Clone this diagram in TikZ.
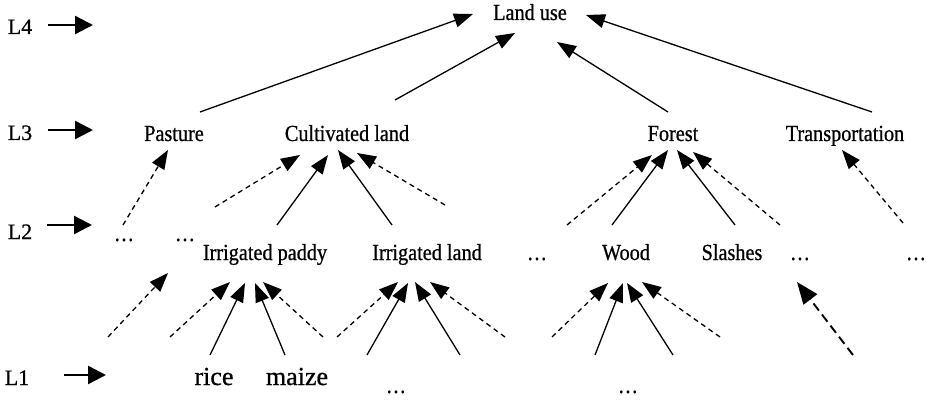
\documentclass[tikz,border=0pt]{standalone}
\usepackage{fontspec}
\setmainfont{Liberation Serif}
\newfontfamily\labelfont{Liberation Serif}[FakeBold=0.8]
\usetikzlibrary{arrows.meta}
\newcommand\narrowtext[1]{\scalebox{0.88}[1]{#1}}
\tikzset{
  term/.style={anchor=base, inner sep=0pt, font=\labelfont\fontsize{23}{26}\selectfont},
  leaf/.style={anchor=base, inner sep=0pt, font=\labelfont\fontsize{26}{28}\selectfont},
  level/.style={anchor=base, inner sep=0pt, font=\labelfont\fontsize{22}{24}\selectfont},
  levelarrow/.style={line width=2.4pt, -{Triangle[length=18pt,width=18pt]}},
  link/.style={line width=1.3pt, -{Triangle[length=19pt,width=14pt]}},
  dlink/.style={link, dash pattern=on 5pt off 4pt},
  wlink/.style={line width=1.9pt, dash pattern=on 9pt off 5pt, -{Triangle[length=22pt,width=17pt]}}
}
\begin{document}
\begin{tikzpicture}[x=1pt,y=-1pt]
\useasboundingbox (0,0) rectangle (927,401);

% level markers
\node[level] (l4) at (20,34) {L4};
\node[level] (l3) at (20,140) {L3};
\node[level] (l2) at (20,239) {L2};
\node[level] (l1) at (17,385) {L1};
\coordinate (l4a) at (48,25);  \coordinate (l4b) at (93,25);
\coordinate (l3a) at (48,130); \coordinate (l3b) at (93,130);
\coordinate (l2a) at (47,225); \coordinate (l2b) at (92,225);
\coordinate (l1a) at (64,375); \coordinate (l1b) at (106,375);
\draw[levelarrow] (l4a) -- (l4b);
\draw[levelarrow] (l3a) -- (l3b);
\draw[levelarrow] (l2a) -- (l2b);
\draw[levelarrow] (l1a) -- (l1b);

% L4
\node[term] (use) at (530,20) {\narrowtext{Land use}};

% L3
\node[term] (past)   at (174,141) {\narrowtext{Pasture}};
\node[term] (cult)   at (347,141) {\narrowtext{Cultivated land}};
\node[term] (forest) at (673,141) {\narrowtext{Forest}};
\node[term] (trans)  at (845,141) {\narrowtext{Transportation}};

% L2
\node[term] (d1)    at (124,241) {\narrowtext{…}};
\node[term] (d2)    at (185,241) {\narrowtext{…}};
\node[term] (ipad)  at (265,260) {\narrowtext{Irrigated paddy}};
\node[term] (iland) at (427,260) {\narrowtext{Irrigated land}};
\node[term] (d3)    at (537,260) {\narrowtext{…}};
\node[term] (wood)  at (626,260) {\narrowtext{Wood}};
\node[term] (slash) at (732,260) {\narrowtext{Slashes}};
\node[term] (d4)    at (800,260) {\narrowtext{…}};
\node[term] (d5)    at (916,260) {\narrowtext{…}};

% L1
\node[leaf] (rice)  at (214,385) {rice};
\node[leaf] (maize) at (297,385) {maize};
\node[term] (d6)    at (396,393) {\narrowtext{…}};
\node[term] (d7)    at (628,393) {\narrowtext{…}};

% L3 -> L4
\coordinate (pu0) at (200,112); \coordinate (pu1) at (473,14);
\coordinate (cu0) at (395,100); \coordinate (cu1) at (515,33);
\coordinate (fu0) at (668,112); \coordinate (fu1) at (557,42);
\coordinate (tu0) at (872,112); \coordinate (tu1) at (586,15);
\draw[link] (pu0) -- (pu1);
\draw[link] (cu0) -- (cu1);
\draw[link] (fu0) -- (fu1);
\draw[link] (tu0) -- (tu1);

% L2 -> L3
\coordinate (pp0) at (123,225); \coordinate (pp1) at (168,150);
\draw[dlink] (pp0) -- (pp1);
\coordinate (ca0) at (215,207); \coordinate (ca1) at (300,155);
\coordinate (cb0) at (277,225); \coordinate (cb1) at (328,155);
\coordinate (cc0) at (392,225); \coordinate (cc1) at (338,150);
\coordinate (cd0) at (445,205); \coordinate (cd1) at (357,153);
\draw[dlink] (ca0) -- (ca1);
\draw[link]  (cb0) -- (cb1);
\draw[link]  (cc0) -- (cc1);
\draw[dlink] (cd0) -- (cd1);
\coordinate (fa0) at (567,225); \coordinate (fa1) at (652,155);
\coordinate (fb0) at (612,225); \coordinate (fb1) at (668,150);
\coordinate (fc0) at (735,225); \coordinate (fc1) at (677,150);
\coordinate (fd0) at (780,225); \coordinate (fd1) at (693,152);
\draw[dlink] (fa0) -- (fa1);
\draw[link]  (fb0) -- (fb1);
\draw[link]  (fc0) -- (fc1);
\draw[dlink] (fd0) -- (fd1);
\coordinate (tt0) at (903,223); \coordinate (tt1) at (842,150);
\draw[dlink] (tt0) -- (tt1);

% L1 -> L2
\coordinate (dd0) at (108,337); \coordinate (dd1) at (168,273);
\draw[dlink] (dd0) -- (dd1);
\coordinate (ia0) at (170,337); \coordinate (ia1) at (230,282);
\coordinate (ib0) at (210,355); \coordinate (ib1) at (245,283);
\coordinate (ic0) at (285,355); \coordinate (ic1) at (255,283);
\coordinate (id0) at (323,337); \coordinate (id1) at (263,282);
\draw[dlink] (ia0) -- (ia1);
\draw[link]  (ib0) -- (ib1);
\draw[link]  (ic0) -- (ic1);
\draw[dlink] (id0) -- (id1);
\coordinate (la0) at (337,337); \coordinate (la1) at (398,282);
\coordinate (lb0) at (367,355); \coordinate (lb1) at (408,283);
\coordinate (lc0) at (460,355); \coordinate (lc1) at (415,282);
\coordinate (ld0) at (505,337); \coordinate (ld1) at (430,282);
\draw[dlink] (la0) -- (la1);
\draw[link]  (lb0) -- (lb1);
\draw[link]  (lc0) -- (lc1);
\draw[dlink] (ld0) -- (ld1);
\coordinate (wa0) at (552,337); \coordinate (wa1) at (608,283);
\coordinate (wb0) at (595,355); \coordinate (wb1) at (623,283);
\coordinate (wc0) at (673,355); \coordinate (wc1) at (627,283);
\coordinate (wd0) at (720,337); \coordinate (wd1) at (642,282);
\draw[dlink] (wa0) -- (wa1);
\draw[link]  (wb0) -- (wb1);
\draw[link]  (wc0) -- (wc1);
\draw[dlink] (wd0) -- (wd1);
\coordinate (sa0) at (853,355); \coordinate (sa1) at (797,282);
\draw[wlink] (sa0) -- (sa1);
\end{tikzpicture}
\end{document}
